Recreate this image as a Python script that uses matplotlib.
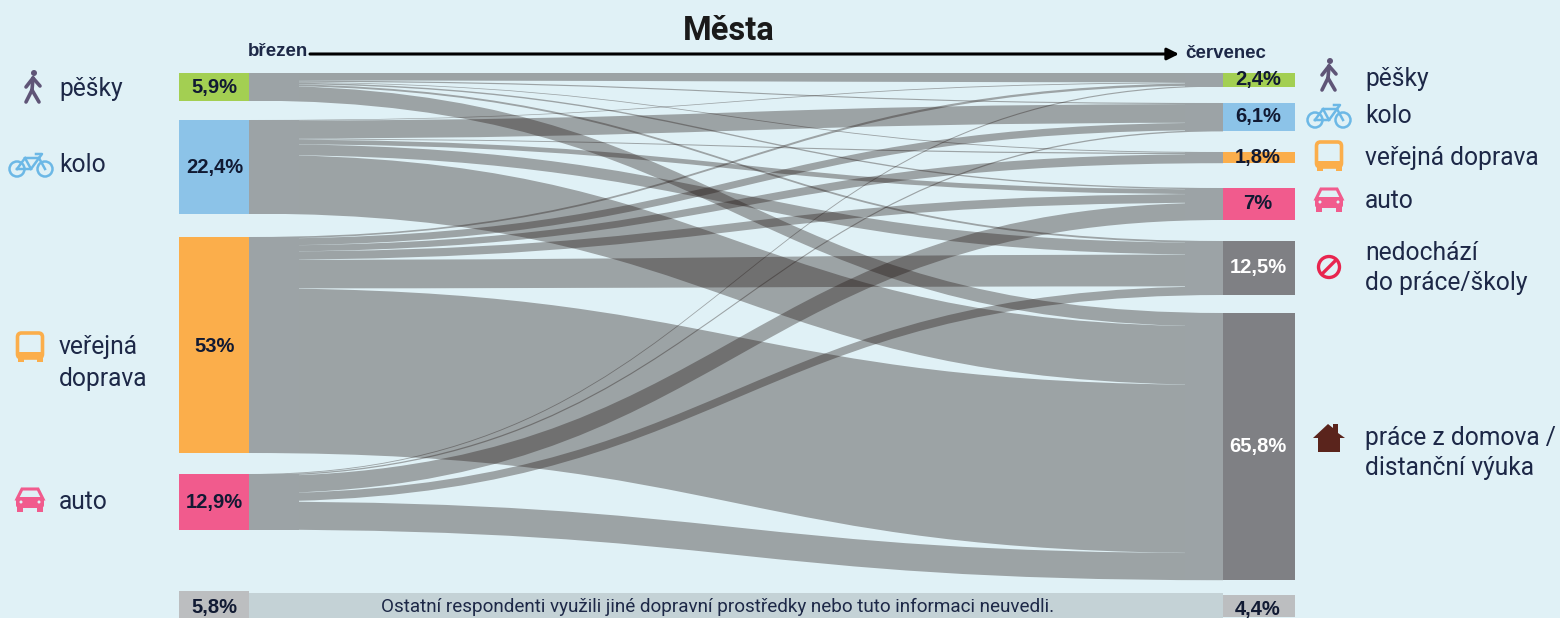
import numpy as np
import matplotlib
matplotlib.use("Agg")
import matplotlib.pyplot as plt
from matplotlib.path import Path
from matplotlib.patches import PathPatch, Circle, Rectangle, FancyBboxPatch, Polygon

plt.rcParams['font.family'] = ['Roboto', 'DejaVu Sans']

# shares in percent
march_labels = ["pěšky", "kolo", "veřejná\ndoprava", "auto"]
march_values = [5.9, 22.4, 53, 12.9]
march_other = 5.8

july_labels = ["pěšky", "kolo", "veřejná doprava", "auto", "nedochází\ndo práce/školy", "práce z domova /\ndistanční výuka"]
july_values = [2.4, 6.1, 1.8, 7, 12.5, 65.8]
july_other = 4.4

# rows = march mode, columns = july mode
from_walk = [1.6, 0.25, 0.15, 0.3, 0.4, 3.2]
from_bike = [0.15, 4.3, 0.2, 1.1, 2.6, 14.05]
from_transit = [0.4, 1.7, 1.5, 2.0, 7.0, 40.4]
from_car = [0.2, 0.3, 0.0, 4.0, 1.9, 6.5]

note = "Ostatní respondenti využili jiné dopravní prostředky nebo tuto informaci neuvedli."

BG = "#e0f1f6"
TEXT = "#1d2847"
BAND = "#9ca3a6"
MARCH_COLORS = ["#a3cf52", "#8cc3e8", "#fbae4b", "#f15b8d"]
JULY_COLORS = ["#a3cf52", "#8cc3e8", "#fbae4b", "#f15b8d", "#7f8084", "#7f8084"]

# layout, in pixels of the 1560x618 canvas
LEFT_X0, LEFT_X1 = 179, 249
RIGHT_X0, RIGHT_X1 = 1223, 1295
MARCH_TOPS = [73, 120, 237, 474]
JULY_TOPS = [73, 103, 152, 188, 241, 313]
OTHER_TOPS = (591, 595)


def bar_height(v):
    return 4.0 * v + 4


def pct(v):
    return f"{v}%".replace(".", ",")


def ribbon(ax, x0, x1, y0a, y0b, y1a, y1b):
    mid = (x0 + x1) / 2
    verts = [(x0, y0a), (mid, y0a), (mid, y1a), (x1, y1a),
             (x1, y1b), (mid, y1b), (mid, y0b), (x0, y0b), (x0, y0a)]
    codes = [Path.MOVETO, Path.CURVE4, Path.CURVE4, Path.CURVE4,
             Path.LINETO, Path.CURVE4, Path.CURVE4, Path.CURVE4, Path.CLOSEPOLY]
    ax.add_patch(PathPatch(Path(verts, codes), fc="#1e120f", alpha=0.35, lw=0, zorder=2))


def draw_flows(ax, flows):
    left_used = np.cumsum(np.hstack([np.zeros((4, 1)), flows]), axis=1)
    right_used = np.cumsum(np.vstack([np.zeros((1, 6)), flows]), axis=0)
    left_k = [bar_height(v) / flows[i].sum() for i, v in enumerate(march_values)]
    right_k = [bar_height(v) / flows[:, j].sum() for j, v in enumerate(july_values)]
    for i in range(4):
        for j in range(6):
            if flows[i, j] == 0:
                continue
            ribbon(ax, LEFT_X1, RIGHT_X0,
                   MARCH_TOPS[i] + left_used[i, j] * left_k[i],
                   MARCH_TOPS[i] + left_used[i, j + 1] * left_k[i],
                   JULY_TOPS[j] + right_used[i, j] * right_k[j],
                   JULY_TOPS[j] + right_used[i + 1, j] * right_k[j])
    # hide the hairline seams where neighbouring ribbons still touch
    for top, v in zip(MARCH_TOPS, march_values):
        ax.add_patch(Rectangle((LEFT_X1, top), 50, bar_height(v), fc=BAND, lw=0, zorder=2.5))
    for top, v in zip(JULY_TOPS, july_values):
        ax.add_patch(Rectangle((1185, top), RIGHT_X0 - 1185, bar_height(v), fc=BAND, lw=0, zorder=2.5))


def icon_walker(ax, cx, cy):
    c = "#5f5577"
    ax.add_patch(Circle((cx + 1, cy - 14), 3, fc=c, lw=0, zorder=4))
    for seg in [[(0, -9), (-1, 3)], [(-1, 3), (-7, 15)], [(-1, 3), (6, 15)],
                [(0, -9), (-7, 0)], [(0, -9), (7, -1)]]:
        xs = [cx + p[0] for p in seg]
        ys = [cy + p[1] for p in seg]
        ax.plot(xs, ys, color=c, lw=2.6, solid_capstyle="round", zorder=4)


def icon_bike(ax, cx, cy):
    c = "#6cb8e6"
    for dx in (-14, 14):
        ax.add_patch(Circle((cx + dx, cy + 5), 7.5, fc="none", ec=c, lw=1.8, zorder=4))
    pts = [(-14, 5), (-6, -6), (8, -6), (14, 5)]
    ax.plot([cx + p[0] for p in pts], [cy + p[1] for p in pts], color=c, lw=1.8, zorder=4)
    pts = [(-14, 5), (0, 5), (8, -6)]
    ax.plot([cx + p[0] for p in pts], [cy + p[1] for p in pts], color=c, lw=1.8, zorder=4)
    pts = [(-6, -6), (0, 5)]
    ax.plot([cx + p[0] for p in pts], [cy + p[1] for p in pts], color=c, lw=1.8, zorder=4)
    ax.plot([cx + 5, cx + 11, cx + 8], [cy - 10, cy - 10, cy - 6], color=c, lw=1.8, zorder=4)


def icon_bus(ax, cx, cy):
    c = "#fbae4b"
    ax.add_patch(FancyBboxPatch((cx - 12.5, cy - 14), 25, 25, boxstyle="round,pad=0,rounding_size=4",
                                fc="none", ec=c, lw=2.6, zorder=4))
    ax.add_patch(Rectangle((cx - 12.5, cy + 5), 25, 6, fc=c, lw=0, zorder=4))
    ax.add_patch(Rectangle((cx - 12.5, cy + 10), 6, 5, fc=c, lw=0, zorder=4))
    ax.add_patch(Rectangle((cx + 6.5, cy + 10), 6, 5, fc=c, lw=0, zorder=4))


def icon_car(ax, cx, cy):
    c = "#f15b8d"
    ax.add_patch(FancyBboxPatch((cx - 14, cy - 3), 28, 11, boxstyle="round,pad=0,rounding_size=3",
                                fc=c, lw=0, zorder=4))
    ax.add_patch(Polygon([(cx - 13, cy - 1), (cx - 8, cy - 11), (cx + 8, cy - 11), (cx + 13, cy - 1)],
                         fc="none", ec=c, lw=2.2, zorder=4))
    ax.add_patch(Rectangle((cx - 13, cy + 7), 6, 5, fc=c, lw=0, zorder=4))
    ax.add_patch(Rectangle((cx + 7, cy + 7), 6, 5, fc=c, lw=0, zorder=4))
    ax.add_patch(Circle((cx - 9, cy + 2), 1.5, fc=BG, lw=0, zorder=5))
    ax.add_patch(Circle((cx + 9, cy + 2), 1.5, fc=BG, lw=0, zorder=5))


def icon_no(ax, cx, cy):
    c = "#e8254f"
    ax.add_patch(Circle((cx, cy), 10.5, fc="none", ec=c, lw=2.4, zorder=4))
    ax.plot([cx - 7, cx + 7], [cy + 7, cy - 7], color=c, lw=2.4, zorder=4)


def icon_house(ax, cx, cy):
    c = "#5a241c"
    ax.add_patch(Polygon([(cx - 16, cy), (cx - 1, cy - 14), (cx + 4, cy - 10), (cx + 4, cy - 14),
                          (cx + 9, cy - 14), (cx + 9, cy - 5), (cx + 16, cy),
                          (cx + 11, cy), (cx + 11, cy + 14), (cx - 11, cy + 14), (cx - 11, cy)],
                         fc=c, lw=0, zorder=4))


def main():
    fig = plt.figure(figsize=(15.6, 6.18), dpi=100, facecolor=BG)
    ax = fig.add_axes([0, 0, 1, 1])
    ax.set_xlim(0, 1560)
    ax.set_ylim(618, 0)
    ax.axis("off")

    flows = np.array([from_walk, from_bike, from_transit, from_car])
    draw_flows(ax, flows)

    # other respondents strip
    ax.add_patch(Rectangle((LEFT_X1, 593), RIGHT_X0 - LEFT_X1, 25, fc="#c4d2d6", lw=0, zorder=1))
    ax.text(717.5, 607, note, ha="center", va="center", fontsize=13.6, color=TEXT, zorder=5)

    # nodes
    ax.bar([(LEFT_X0 + LEFT_X1) / 2] * 4, [bar_height(v) for v in march_values], bottom=MARCH_TOPS,
           width=LEFT_X1 - LEFT_X0, color=MARCH_COLORS, zorder=3)
    ax.bar([(RIGHT_X0 + RIGHT_X1) / 2] * 6, [bar_height(v) for v in july_values], bottom=JULY_TOPS,
           width=RIGHT_X1 - RIGHT_X0, color=JULY_COLORS, zorder=3)
    ax.bar((LEFT_X0 + LEFT_X1) / 2, bar_height(march_other), bottom=OTHER_TOPS[0],
           width=LEFT_X1 - LEFT_X0, color="#bcbec0", zorder=3)
    ax.bar((RIGHT_X0 + RIGHT_X1) / 2, bar_height(july_other), bottom=OTHER_TOPS[1],
           width=RIGHT_X1 - RIGHT_X0, color="#bcbec0", zorder=3)

    # value labels
    lx = (LEFT_X0 + LEFT_X1) / 2 + 0.5
    rx = (RIGHT_X0 + RIGHT_X1) / 2 - 1
    style = dict(ha="center", va="center", fontsize=14.5, fontweight="bold",
                 family="Liberation Sans", zorder=5)
    for top, v in zip(MARCH_TOPS, march_values):
        ax.text(lx, top + bar_height(v) / 2 + 1, pct(v), color="#111a33", **style)
    for i, (top, v) in enumerate(zip(JULY_TOPS, july_values)):
        col = "white" if i >= 4 else "#111a33"
        ax.text(rx, top + bar_height(v) / 2 - 0.5, pct(v), color=col, **style)
    ax.text(lx, 608, pct(march_other), color="#111a33", **style)
    ax.text(rx, 609, pct(july_other), color="#111a33", **style)

    # mode names
    left_ys = [89, 165, 363, 502]
    for label, y in zip(march_labels, left_ys):
        ax.text(59, y, label, ha="left", va="center", fontsize=17.7, color=TEXT, linespacing=1.38, zorder=5)
    right_ys = [79, 116, 158, 201, 268, 453]
    for label, y in zip(july_labels, right_ys):
        ax.text(1365, y, label, ha="left", va="center", fontsize=17.7, color=TEXT, linespacing=1.35, zorder=5)

    icon_walker(ax, 33, 87)
    icon_bike(ax, 31, 164)
    icon_bus(ax, 30, 347)
    icon_car(ax, 30, 500)
    icon_walker(ax, 1329, 75)
    icon_bike(ax, 1329, 115)
    icon_bus(ax, 1329, 156)
    icon_car(ax, 1329, 200)
    icon_no(ax, 1329, 267)
    icon_house(ax, 1329, 438)

    # header
    ax.text(728.5, 31, "Města", ha="center", va="center", fontsize=23.5, fontweight="bold", color="#1a1a1a", zorder=5)
    ax.text(248, 52, "březen", ha="left", va="center", fontsize=13.5, fontweight="bold",
            family="Liberation Sans", color=TEXT, zorder=5)
    ax.text(1185, 54, "červenec", ha="left", va="center", fontsize=13.4, fontweight="bold",
            family="Liberation Sans", color=TEXT, zorder=5)
    ax.annotate("", xy=(1179, 54), xytext=(310, 54),
                arrowprops=dict(arrowstyle="-|>,head_length=0.7,head_width=0.35", color="black", lw=2.2,
                                shrinkA=0, shrinkB=0), zorder=5)

    fig.savefig("out.png", dpi=100, facecolor=BG)


if __name__ == "__main__":
    main()
